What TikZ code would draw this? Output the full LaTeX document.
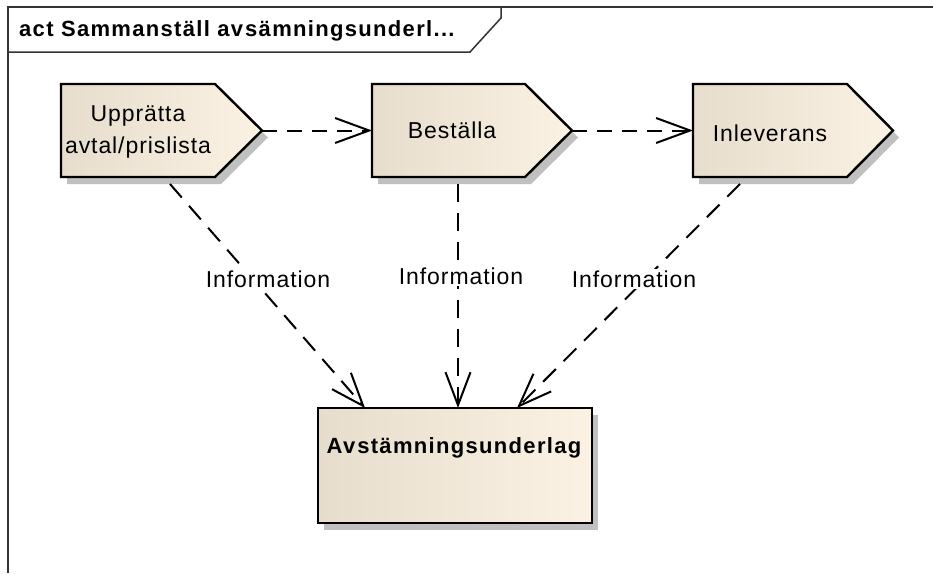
\documentclass[tikz,border=0pt]{standalone}
\usepackage{fontspec}
\setmainfont{Liberation Sans}
\newfontfamily\regsp[LetterSpace=4]{Liberation Sans}
\newfontfamily\boldsp[LetterSpace=6]{Liberation Sans Bold}
\usetikzlibrary{arrows.meta}
\definecolor{fillL}{RGB}{230,221,205}
\definecolor{fillR}{RGB}{251,242,227}
\definecolor{shad}{RGB}{192,192,192}
\newcommand\actpent[6]{%
  % #1 L, #2 B, #3 P, #4 T, #5 Bot, #6 mid
  \fill[shad] (#1+6,#4+7) -- (#2+6,#4+7) -- (#3+6,#6+7) -- (#2+6,#5+7) -- (#1+6,#5+7) -- cycle;
  \draw[actborder, left color=fillL, right color=fillR] (#1,#4) -- (#2,#4) -- (#3,#6) -- (#2,#5) -- (#1,#5) -- cycle;
}
\begin{document}
\begin{tikzpicture}[x=1pt,y=-1pt,
  actborder/.style={draw=black, line width=2.4pt, line join=miter},
  txt/.style={font=\regsp\fontsize{23}{32}\selectfont, inner sep=0pt, align=center},
  lbl/.style={font=\regsp\fontsize{23}{26}\selectfont, fill=white, inner sep=2pt},
  flow/.style={draw=black, line width=2pt, dash pattern=on 15pt off 10pt, -{Straight Barb[length=34pt,width=25pt,line width=2pt]}},
  dep/.style={draw=black, line width=2pt, dash pattern=on 18pt off 11pt, -{Straight Barb[length=33pt,width=25pt,line width=2pt]}},
  frame/.style={draw=black!80, line width=1.5pt}]
\useasboundingbox (0,0) rectangle (933,573);
% frame
\draw[frame] (933,7) -- (8,7) -- (8,573);
\draw[frame] (8,52) -- (470,52) -- (501,18) -- (501,7);
\node[anchor=west, font=\boldsp\fontsize{22}{24}\selectfont, inner sep=0pt] (title) at (19,31) {act Sammanställ av\hspace{2pt}sämningsunderl...};
% action shapes
\actpent{61}{215}{262}{84}{177}{130.5}
\actpent{372}{525}{572}{84}{177}{130.5}
\actpent{693}{847}{893}{84}{177}{130.5}
% object box
\fill[shad] (324,415) rectangle (598,530);
\draw[actborder, left color=fillL, right color=fillR] (318,408) rectangle (592,523);
% nodes (text)
\node[txt] (upp) at (138,132) {Upprätta\\avtal/prislista};
\node[txt] (best) at (452,130) {Beställa};
\node[txt] (inl) at (770,133) {Inleverans};
\node[font=\boldsp\fontsize{22}{24}\selectfont, inner sep=0pt] (avst) at (454,448) {Av\hspace{2pt}stämningsunderlag};
% connection points
\coordinate (uppT) at (262,130.5);
\coordinate (bestL) at (372,130.5);
\coordinate (bestT) at (572,130.5);
\coordinate (inlL) at (693,130.5);
\coordinate (uppB) at (170,184);
\coordinate (bestB) at (458,184);
\coordinate (inlB) at (740,184);
\coordinate (avA) at (365,408);
\coordinate (avB) at (458,408);
\coordinate (avC) at (517,408);
% connectors
\draw[flow] (uppT) -- (bestL);
\draw[flow] (bestT) -- (inlL);
\draw[dep] (uppB) -- (avA);
\draw[dep] (bestB) -- (avB);
\draw[dep] (inlB) -- (avC);
% labels
\node[lbl] (i1) at (268,279) {Information};
\node[lbl] (i2) at (461,276) {Information};
\node[lbl] (i3) at (634,279) {Information};
\end{tikzpicture}
\end{document}
